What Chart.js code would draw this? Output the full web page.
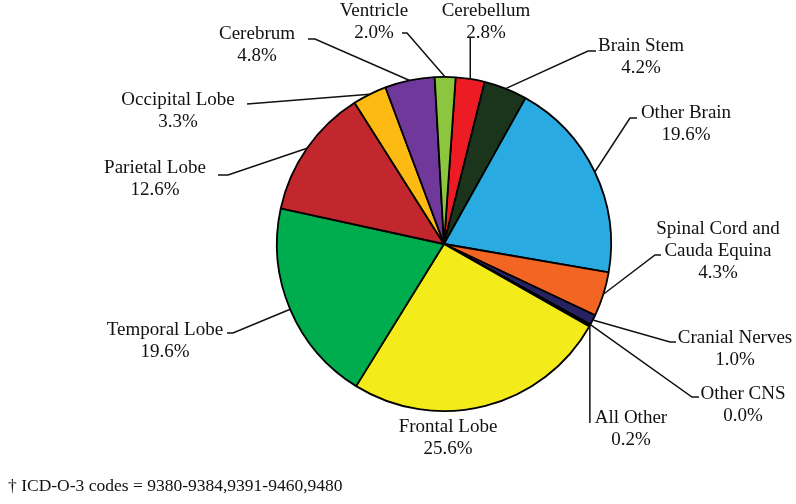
<!DOCTYPE html>
<html>
<head>
<meta charset="utf-8">
<script src="https://cdn.jsdelivr.net/npm/chart.js@4.4.0/dist/chart.umd.min.js"></script>
<style>
    html,body{
        margin:0;
        padding:0;
        background:#ffffff;
    }
    #wrap{
        position:relative;
        width:796px;
        height:504px;
    }
</style>
</head>
<body>
<div id="wrap">
    <canvas id="pieChart" width="796" height="504"></canvas>
</div>

<script>

// slices, clockwise from the top
const categories = [
    "Cerebellum",
    "Brain Stem",
    "Other Brain",
    "Spinal Cord and Cauda Equina",
    "Cranial Nerves",
    "Other CNS",
    "All Other",
    "Frontal Lobe",
    "Temporal Lobe",
    "Parietal Lobe",
    "Occipital Lobe",
    "Cerebrum",
    "Ventricle"
];

const percents = [
    2.8, 4.2, 19.6, 4.3, 1.0, 0.0, 0.2, 25.6, 19.6, 12.6, 3.3, 4.8, 2.0
];

// how each label is broken into lines
const labelLines = [
    ["Cerebellum"],
    ["Brain Stem"],
    ["Other Brain"],
    ["Spinal Cord and", "Cauda Equina"],
    ["Cranial Nerves"],
    ["Other CNS"],
    ["All Other"],
    ["Frontal Lobe"],
    ["Temporal Lobe"],
    ["Parietal Lobe"],
    ["Occipital Lobe"],
    ["Cerebrum"],
    ["Ventricle"]
];

const sliceColors = [
    "#ED1C24",
    "#1B351C",
    "#29ABE2",
    "#F26522",
    "#262262",
    "#000000",
    "#111111",
    "#F4EB1B",
    "#00AD4E",
    "#C1272D",
    "#FDBA12",
    "#70389A",
    "#8CC63F"
];

// label placement: text centre x, first line y, leader elbow, short tick end
const labelLayout = [
    {x:486, y:11,  elbow:[472,38]},
    {x:641, y:46,  elbow:[588,51],  tick:[596,51]},
    {x:686, y:113, elbow:[630,118], tick:[637,118]},
    {x:718, y:229, elbow:[655,255], tick:[661,255]},
    {x:735, y:338, elbow:[670,342], tick:[676,342]},
    {x:743, y:394, elbow:[692,397], tick:[699,397]},
    {x:631, y:418, elbow:[591,423]},
    {x:448, y:427},
    {x:165, y:330, elbow:[233,333], tick:[227,333]},
    {x:155, y:168, elbow:[228,175], tick:[218,175]},
    {x:178, y:100, elbow:[247,104]},
    {x:257, y:34,  elbow:[315,39],  tick:[308,39]},
    {x:374, y:11,  elbow:[407,33],  tick:[402,33]}
];

const footnote = "\u2020 ICD-O-3 codes = 9380-9384,9391-9460,9480";

const labelPlugin = {

    id:"sliceLabels",

    afterDatasetsDraw(chart){

        const ctx = chart.ctx;
        const arcs = chart.getDatasetMeta(0).data;

        ctx.save();

        ctx.strokeStyle = "#111111";
        ctx.lineWidth = 1.5;
        ctx.fillStyle = "#111111";
        ctx.font = "19px 'Liberation Serif', 'Times New Roman', serif";
        ctx.textAlign = "center";
        ctx.textBaseline = "middle";

        arcs.forEach((arc,i)=>{

            const p = arc.getProps(
                ["x","y","startAngle","endAngle","outerRadius"],
                true
            );

            const mid = (p.startAngle + p.endAngle) / 2;

            const ex = p.x + Math.cos(mid) * p.outerRadius;
            const ey = p.y + Math.sin(mid) * p.outerRadius;

            const layout = labelLayout[i];

            if(layout.elbow){

                ctx.beginPath();
                ctx.moveTo(ex, ey);

                if(i === 0 || i === 6){
                    // straight vertical leaders
                    ctx.lineTo(ex, layout.elbow[1]);
                }else{
                    ctx.lineTo(layout.elbow[0], layout.elbow[1]);
                }

                if(layout.tick){
                    ctx.lineTo(layout.tick[0], layout.tick[1]);
                }

                ctx.stroke();
            }

            const lines = labelLines[i].concat(
                [percents[i].toFixed(1) + "%"]
            );

            lines.forEach((line,k)=>{

                ctx.fillText(
                    line,
                    layout.x,
                    layout.y + k * 22
                );
            });
        });

        ctx.textAlign = "left";
        ctx.font = "17.5px 'Liberation Serif', 'Times New Roman', serif";
        ctx.fillText(footnote, 8, 486);

        ctx.restore();
    }
};

new Chart(

    document.getElementById("pieChart"),

    {
        type:"pie",

        data:{
            labels:categories,

            datasets:[{
                data:percents,
                backgroundColor:sliceColors,
                borderColor:"#000000",
                borderWidth:1.8
            }]
        },

        options:{
            responsive:false,
            animation:false,
            rotation:4,
            layout:{
                padding:{
                    left:276,
                    right:184,
                    top:76,
                    bottom:92
                }
            },
            plugins:{
                legend:{display:false},
                tooltip:{enabled:false}
            }
        },

        plugins:[labelPlugin]
    }
);

</script>
</body>
</html>
